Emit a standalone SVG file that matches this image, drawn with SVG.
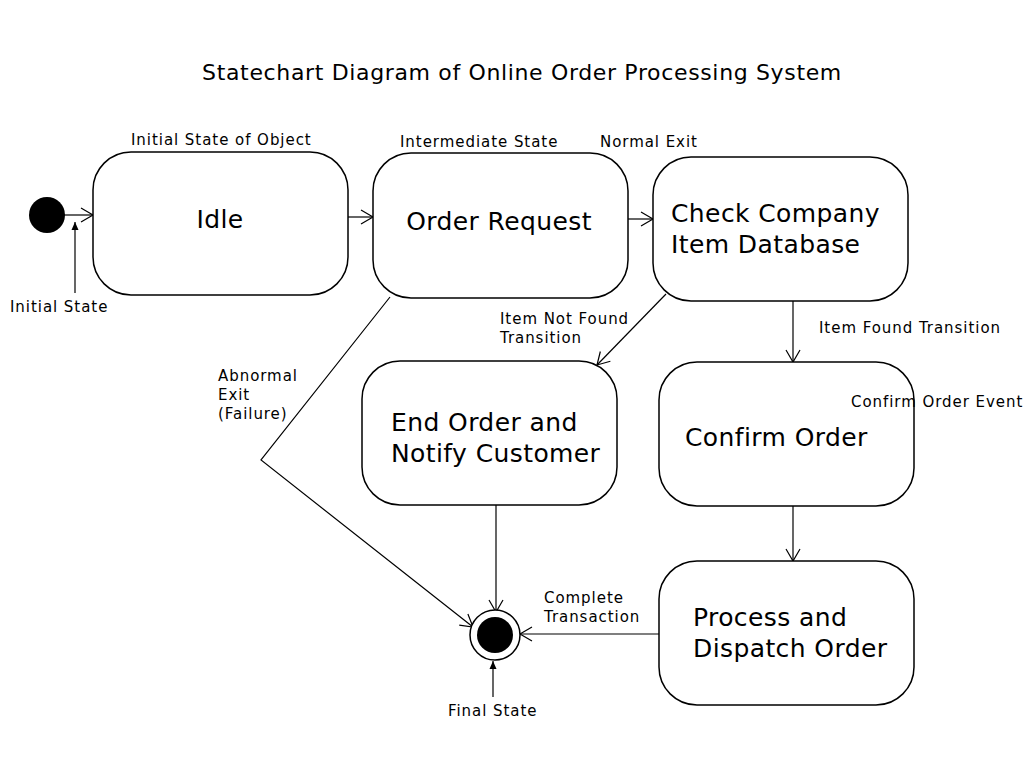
<svg xmlns="http://www.w3.org/2000/svg" width="1024" height="768" viewBox="0 0 1024 768">
<style>
.box{fill:#fff;stroke:#000;stroke-width:1.5}
.nt{font-family:"DejaVu Sans",sans-serif;font-size:25px;letter-spacing:0.4px;fill:#000}
.lb{font-family:"DejaVu Sans",sans-serif;font-size:15px;letter-spacing:0.95px;fill:#000}
.ttl{font-family:"DejaVu Sans",sans-serif;font-size:22px;letter-spacing:0.65px;fill:#000}
.c{fill:none;stroke:#000;stroke-width:1.2}
</style>
<defs>
<marker id="open" markerWidth="16" markerHeight="16" refX="13" refY="8" orient="auto" markerUnits="userSpaceOnUse">
<path d="M1,1 L13,8 L1,15" fill="none" stroke="#000" stroke-width="1.2"/>
</marker>
<marker id="fill" markerWidth="10" markerHeight="10" refX="8" refY="5" orient="auto" markerUnits="userSpaceOnUse">
<path d="M0,1.5 L8,5 L0,8.5 Z" fill="#000"/>
</marker>
</defs>
<rect width="1024" height="768" fill="#fff"/>
<text class="ttl" x="522" y="80" text-anchor="middle">Statechart Diagram of Online Order Processing System</text>

<g id="connectors">
<line class="c" x1="64" y1="215" x2="93" y2="215" marker-end="url(#open)"/>
<line class="c" x1="348" y1="217" x2="373" y2="217" marker-end="url(#open)"/>
<line class="c" x1="628" y1="219" x2="653" y2="219" marker-end="url(#open)"/>
<line class="c" x1="666" y1="294" x2="597" y2="365" marker-end="url(#open)"/>
<line class="c" x1="793" y1="301" x2="793" y2="362" marker-end="url(#open)"/>
<line class="c" x1="793" y1="506" x2="793" y2="561" marker-end="url(#open)"/>
<polyline class="c" points="390,297 261,460 473,627" marker-end="url(#open)"/>
<line class="c" x1="496" y1="505" x2="496" y2="612" marker-end="url(#open)"/>
<line class="c" x1="659" y1="634" x2="520" y2="634" marker-end="url(#open)"/>
<line class="c" x1="75" y1="293" x2="75" y2="222" marker-end="url(#fill)"/>
<line class="c" x1="493" y1="697" x2="493" y2="661" marker-end="url(#fill)"/>
</g>

<g id="initial"><circle cx="47" cy="215" r="18" fill="#000"/></g>
<g id="final"><circle cx="495" cy="635" r="25" fill="#fff" stroke="#000" stroke-width="1.5"/><circle cx="495" cy="635" r="18" fill="#000"/></g>

<g id="idle"><rect class="box" x="93" y="152" width="255" height="143" rx="38"/><text class="nt" x="220" y="228" text-anchor="middle">Idle</text></g>
<g id="order-request"><rect class="box" x="373" y="153" width="255" height="145" rx="38"/><text class="nt" x="499" y="230" text-anchor="middle">Order Request</text></g>
<g id="check-db"><rect class="box" x="653" y="157" width="255" height="144" rx="38"/><text class="nt" x="671" y="222">Check Company</text><text class="nt" x="671" y="253">Item Database</text></g>
<g id="end-order"><rect class="box" x="362" y="361" width="255" height="144" rx="38"/><text class="nt" x="391" y="431">End Order and</text><text class="nt" x="391" y="462">Notify Customer</text></g>
<g id="confirm-order"><rect class="box" x="659" y="362" width="255" height="144" rx="38"/><text class="nt" x="685" y="446">Confirm Order</text></g>
<g id="process-dispatch"><rect class="box" x="659" y="561" width="255" height="144" rx="38"/><text class="nt" x="693" y="626">Process and</text><text class="nt" x="693" y="657">Dispatch Order</text></g>

<g id="labels">
<text class="lb" x="131" y="145">Initial State of Object</text>
<text class="lb" x="400" y="147">Intermediate State</text>
<text class="lb" x="600" y="147">Normal Exit</text>
<text class="lb" x="10" y="312">Initial State</text>
<text class="lb" x="500" y="324">Item Not Found</text>
<text class="lb" x="500" y="343">Transition</text>
<text class="lb" x="819" y="333">Item Found Transition</text>
<text class="lb" x="218" y="381">Abnormal</text>
<text class="lb" x="218" y="400">Exit</text>
<text class="lb" x="218" y="419">(Failure)</text>
<text class="lb" x="851" y="407">Confirm Order Event</text>
<text class="lb" x="544" y="603">Complete</text>
<text class="lb" x="544" y="622">Transaction</text>
<text class="lb" x="448" y="716">Final State</text>
</g>
</svg>
